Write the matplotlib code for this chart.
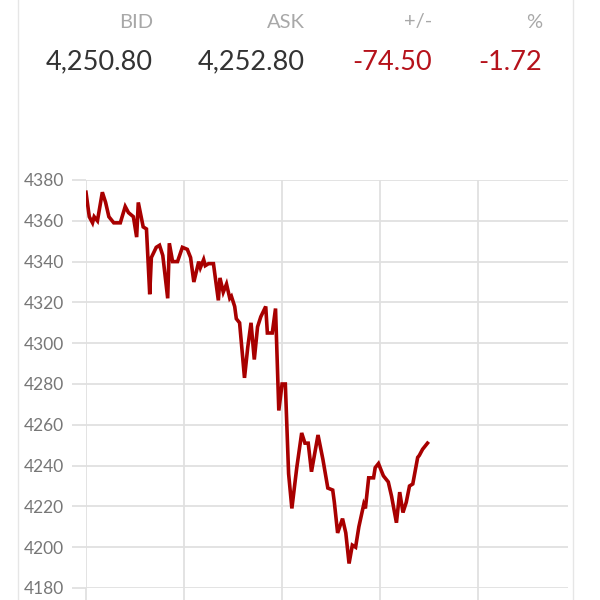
import matplotlib.pyplot as plt
from matplotlib.lines import Line2D

# quote header
quote_labels = ['BID', 'ASK', '+/-', '%']
quote_values = ['4,250.80', '4,252.80', '-74.50', '-1.72']
quote_is_change = [False, False, True, True]

# intraday prices (minutes from open, price)
minutes = [0, 2, 4, 5, 7, 10, 12, 14, 17, 19, 21, 24, 26, 29, 31, 32, 35, 37, 39, 40,
           43, 45, 47, 50, 51, 53, 56, 59, 62, 64, 66, 69, 70, 72, 73, 75, 78, 81, 82, 84,
           86, 88, 89, 91, 92, 94, 97, 99, 101, 103, 105, 107, 110, 111, 114, 116, 118, 120, 122, 124,
           126, 129, 132, 134, 136, 138, 142, 145, 148, 151, 152, 154, 157, 159, 161, 163, 165, 167, 170, 171,
           173, 176, 177, 179, 182, 185, 187, 190, 192, 194, 196, 198, 200, 203, 204, 206, 208, 209]
prices = [4374, 4362, 4359, 4362, 4360, 4374, 4369, 4362, 4359, 4359, 4359, 4367, 4364, 4362, 4352, 4369, 4357, 4356, 4324, 4342,
          4347, 4348, 4343, 4322, 4349, 4340, 4340, 4347, 4346, 4342, 4330, 4340, 4337, 4341, 4338, 4339, 4339, 4321, 4332, 4325,
          4329, 4322, 4323, 4318, 4312, 4310, 4283, 4298, 4310, 4292, 4308, 4313, 4318, 4305, 4305, 4317, 4267, 4280, 4280, 4236,
          4219, 4239, 4256, 4251, 4251, 4237, 4255, 4243, 4229, 4228, 4222, 4207, 4214, 4207, 4192, 4201, 4200, 4210, 4221, 4219,
          4234, 4234, 4239, 4241, 4235, 4232, 4225, 4212, 4227, 4217, 4222, 4230, 4231, 4244, 4245, 4248, 4250, 4251]

y_ticks = [4180, 4200, 4220, 4240, 4260, 4280, 4300, 4320, 4340, 4360, 4380]
x_grid = [0, 60, 120, 180, 240]

red_text = '#b5121b'
line_red = '#a80000'
grid_col = '#e0e0e0'

fig = plt.figure(figsize=(6, 6), dpi=100)
fig.patch.set_facecolor('white')

# card borders
fig.add_artist(Line2D([18 / 600, 18 / 600], [0, 1], color='#e6e6e6', lw=1))
fig.add_artist(Line2D([573 / 600, 573 / 600], [0, 1], color='#e6e6e6', lw=1))

# header
right_edges = [153, 305, 432, 542]
for lab, val, chg, xr in zip(quote_labels, quote_values, quote_is_change, right_edges):
    fig.text(xr / 600, 1 - 22 / 600, lab, ha='right', va='center', family='Lato',
             fontsize=14.5, color='#a8a8a8')
    fig.text(xr / 600, 1 - 62 / 600, val, ha='right', va='center', family='Lato',
             fontsize=19.5, color=red_text if chg else '#333333')

ax = fig.add_axes([86 / 600, 12 / 600, 482 / 600, 408 / 600])
ax.plot(minutes, prices, color=line_red, lw=2.6, solid_joinstyle='miter')
ax.set_ylim(4180, 4380)
ax.set_xlim(0, 295)
ax.set_yticks(y_ticks)
ax.set_xticks(x_grid)
ax.set_xticklabels([])
ax.grid(True, color=grid_col, lw=1.3)
ax.set_axisbelow(True)
for s in ax.spines.values():
    s.set_visible(False)
ax.tick_params(axis='y', length=10, width=1.3, color=grid_col, pad=6,
               labelsize=12.5, labelcolor='#777777')
ax.tick_params(axis='x', length=10, width=1.3, color=grid_col)
for lab in ax.get_yticklabels():
    lab.set_family('Lato')

fig.savefig('out.png', dpi=100, facecolor='white')
